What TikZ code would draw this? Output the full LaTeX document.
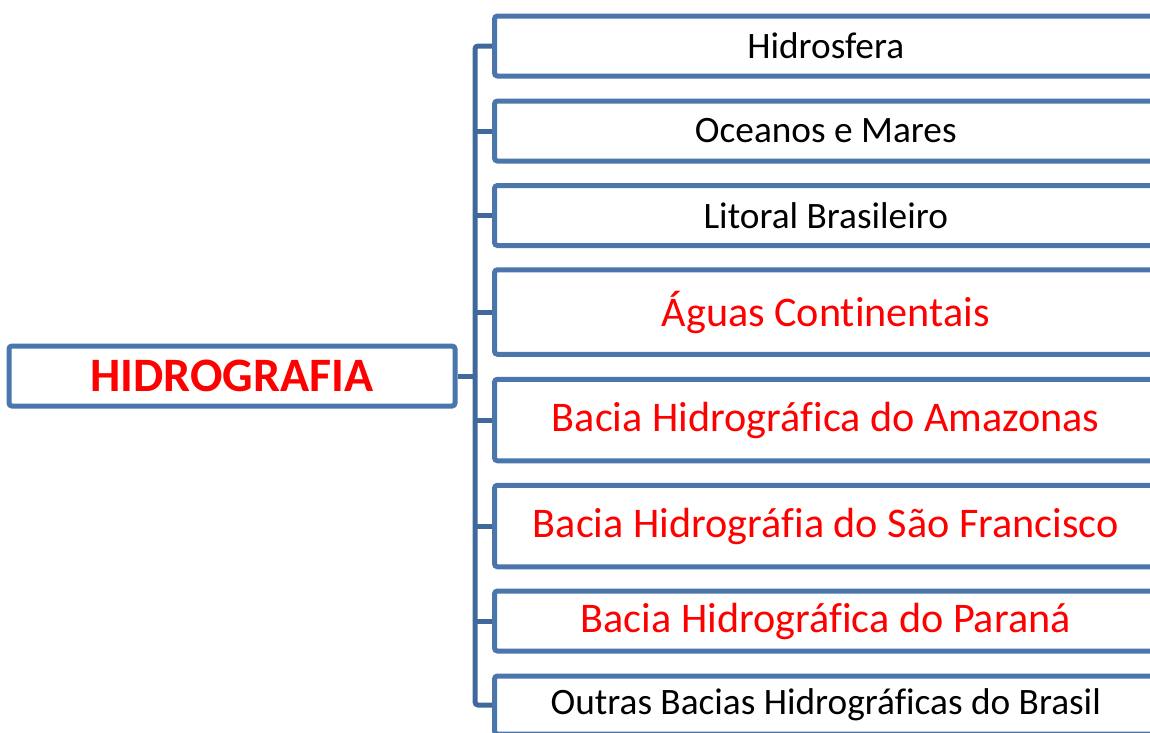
\documentclass[tikz,border=0pt]{standalone}
\usepackage{fontspec}
\setmainfont{Carlito}[Ligatures={CommonOff,ContextualOff}]
\definecolor{boxblue}{RGB}{74,118,172}
\definecolor{busblue}{RGB}{64,104,156}
\tikzset{
  topic/.style={draw=boxblue, line width=5pt, rounded corners=3pt, fill=white,
    minimum width=662.5pt, inner sep=0pt, font=\fontsize{37.3}{44}\selectfont},
  subtopic/.style={topic, text=red, font=\fontsize{42.2}{50}\selectfont},
  mainbox/.style={topic, text=red, minimum width=446pt, minimum height=60pt,
    font=\fontsize{48}{56}\selectfont\bfseries},
  link/.style={draw=busblue, line width=5pt, rounded corners=3pt}
}
\begin{document}
\begin{tikzpicture}[x=1pt,y=-1pt]
	\useasboundingbox (0,0) rectangle (1150,732);
	\clip (0,0) rectangle (1150,732);
	% links first, boxes on top
	\coordinate (bus) at (475,0);
	\node[mainbox] (hidro) at (232,376) {HIDROGRAFIA};
	\node[topic, minimum height=60pt] (t1) at (825.75,46) {Hidrosfera};
	\node[topic, minimum height=60pt] (t2) at (825.75,131) {Oceanos e Mares};
	\node[topic, minimum height=60pt] (t3) at (825.75,215.5) {Litoral Brasileiro};
	\node[subtopic, minimum height=84.5pt] (t4) at (825.75,312) {Águas Continentais};
	\node[subtopic, minimum height=81.5pt] (t5) at (825.75,420) {Bacia Hidrográfica do Amazonas};
	\node[subtopic, minimum height=81.5pt] (t6) at (825.75,526) {Bacia Hidrográfia do São Francisco};
	\node[subtopic, minimum height=60pt] (t7) at (825.75,621) {Bacia Hidrográfica do Paraná};
	\node[topic, minimum height=58pt] (t8) at (825.75,705) {Outras Bacias Hidrográficas do Brasil};
	\draw[link] (t1.west) -- (t1.west -| bus) -- (t8.west -| bus) -- (t8.west);
	\foreach \t in {t2,t3,t4,t5,t6,t7}
		\draw[link] (\t.west -| bus) -- (\t.west);
	\draw[link] (hidro.east) -- (hidro.east -| bus);
\end{tikzpicture}
\end{document}
